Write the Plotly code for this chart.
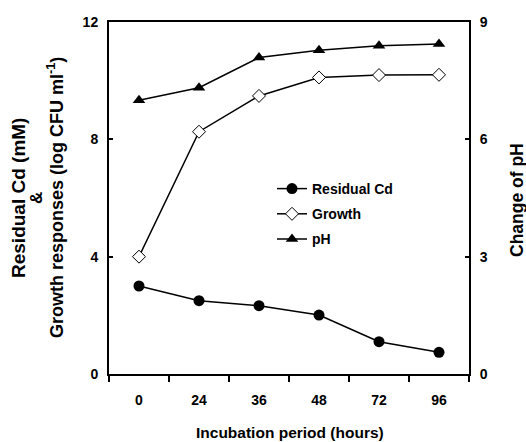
import plotly.graph_objects as go

hours = ["0", "24", "36", "48", "72", "96"]
residual_cd = [3.0, 2.5, 2.33, 2.01, 1.1, 0.74]
growth = [4.0, 8.26, 9.48, 10.11, 10.19, 10.2]
ph = [7.0, 7.32, 8.09, 8.28, 8.39, 8.44]

left_title_lines = ["Residual Cd (mM)", "&", "Growth responses (log CFU ml<sup>-1</sup>)"]
right_title = "Change of pH"
x_title = "Incubation period (hours)"

W, H = 526, 442
L, R, T, B = 109, 57, 22, 68
PW, PH = W - L - R, H - T - B

def px_x(p):
    return (p - L) / PW

def px_y(p):
    return (H - B - p) / PH

FAM = "Liberation Sans, Arial"
tick_font = dict(family=FAM, size=14, color="black", weight="bold")

fig = go.Figure()
fig.add_trace(go.Scatter(x=hours, y=residual_cd, name="Residual Cd", mode="lines+markers",
                         line=dict(color="black", width=1.5), legendgroup="a",
                         marker=dict(symbol="circle", size=11, color="black")))
fig.add_trace(go.Scatter(x=hours, y=growth, name="Growth", mode="lines+markers",
                         line=dict(color="black", width=1.5), legendgroup="b",
                         marker=dict(symbol="diamond", size=10, color="white", line=dict(color="black", width=1))))
fig.add_trace(go.Scatter(x=hours, y=ph, name="pH", mode="lines+markers", yaxis="y2",
                         line=dict(color="black", width=1.5), legendgroup="c",
                         marker=dict(symbol="triangle-up", size=11, color="black")))

annotations = []
for txt, cx, size, weight in zip(left_title_lines, [18, 36, 55], [19, 17, 18], ["bold", "bold", "bold"]):
    annotations.append(dict(text=txt, x=px_x(cx), y=px_y(198), xref="paper", yref="paper",
                            xanchor="center", yanchor="middle", textangle=-90, showarrow=False,
                            font=dict(family=FAM, size=size, color="black", weight=weight)))
annotations.append(dict(text=right_title, x=px_x(517), y=px_y(200), xref="paper", yref="paper",
                        xanchor="center", yanchor="middle", textangle=-90, showarrow=False,
                        font=dict(family=FAM, size=17.5, color="black", weight="bold")))
annotations.append(dict(text=x_title, x=px_x(290), y=px_y(433), xref="paper", yref="paper",
                        xanchor="center", yanchor="middle", showarrow=False,
                        font=dict(family=FAM, size=15.5, color="black", weight="bold")))

fig.update_layout(
    width=W, height=H,
    margin=dict(l=L, r=R, t=T, b=B),
    paper_bgcolor="white", plot_bgcolor="white",
    showlegend=True,
    annotations=annotations,
    legend=dict(x=px_x(272), y=px_y(173), xanchor="left", yanchor="top",
                bgcolor="rgba(0,0,0,0)", font=dict(family=FAM, size=14, color="black", weight="bold"),
                tracegroupgap=4, itemwidth=30),
    xaxis=dict(type="category", range=[-0.5, 5.5], showline=True, linecolor="black", linewidth=2, mirror=True,
               ticks="outside", tickson="boundaries", ticklen=6, tickwidth=2, tickcolor="black",
               tickfont=tick_font, showgrid=False, zeroline=False, ticklabelstandoff=12),
    yaxis=dict(range=[0, 12], tickvals=[0, 4, 8, 12], showline=True, linecolor="black", linewidth=2,
               ticks="inside", ticklen=4, tickwidth=2, tickcolor="black", tickfont=tick_font,
               showgrid=False, zeroline=False, ticklabelstandoff=6),
    yaxis2=dict(range=[0, 9], tickvals=[0, 3, 6, 9], overlaying="y", side="right", showline=True, linecolor="black", linewidth=2,
                ticks="inside", ticklen=4, tickwidth=2, tickcolor="black", tickfont=tick_font,
                showgrid=False, zeroline=False, ticklabelstandoff=6),
)

fig.write_html("out.html")
